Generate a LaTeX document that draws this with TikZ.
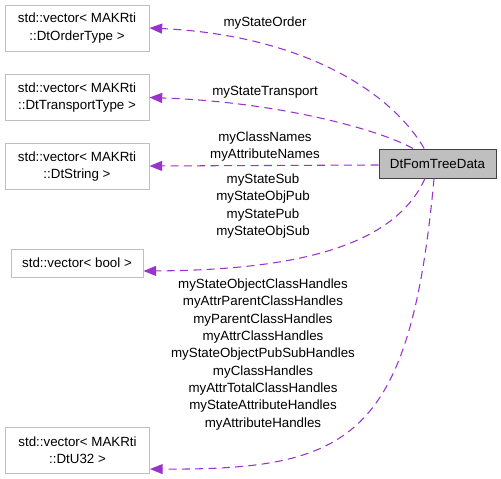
\documentclass[tikz,border=0pt]{standalone}
\usepackage{fontspec}
\setmainfont{Liberation Sans}
\usetikzlibrary{arrows.meta, positioning}
\definecolor{edgepurple}{HTML}{9A32CD}
\definecolor{boxgray}{HTML}{BFBFBF}

\begin{document}
\begin{tikzpicture}[x=0.75pt, y=-0.75pt,
    classbox/.style={draw=boxgray, line width=0.75pt, minimum width=108pt, minimum height=34.5pt, align=center, inner sep=0pt, font=\fontsize{10pt}{13pt}\selectfont},
    usage/.style={draw=edgepurple, line width=0.8pt, dash pattern=on 6pt off 4pt, -{Triangle[length=9.5pt, width=7.5pt, fill=edgepurple]}},
    edgelabel/.style={align=center, inner sep=0pt, font=\fontsize{10pt}{13pt}\selectfont}]
             \useasboundingbox (0,0) rectangle (501,479);
             \node[classbox] (order) at (77,28) {std::vector< MAKRti\\::DtOrderType >};
             \node[classbox] (transport) at (77,97.5) {std::vector< MAKRti\\::DtTransportType >};
             \node[classbox] (strings) at (77,166.5) {std::vector< MAKRti\\::DtString >};
             \node[classbox, minimum width=99pt, minimum height=21pt] (flags) at (77,263) {std::vector< bool >};
             \node[classbox] (handles) at (77.5,450.5) {std::vector< MAKRti\\::DtU32 >};
             \node[classbox, draw=black!75, fill=boxgray, minimum width=87.75pt, minimum height=21.75pt] (data) at (437.5,163.5) {DtFomTreeData};
             \draw[usage] ([xshift=-10pt]data.north) .. controls (390,90) and (300,35) .. (order.east);
             \draw[usage] ([xshift=-18.4pt]data.north) .. controls (380,130) and (280,102) .. (transport.east);
             \draw[usage] (data.west |- 0,165) -- (strings.east |- 0,166);
             \draw[usage] ([xshift=-9.4pt]data.south) .. controls (395,245) and (300,270) .. ([yshift=-6pt]flags.east);
             \draw[usage] ([xshift=-2.6pt]data.south) .. controls (410,440) and (350,470) .. ([yshift=-13.9pt]handles.east);
             \node[edgelabel] (orderlabel) at (265,23) {myStateOrder};
             \node[edgelabel] (transportlabel) at (265,92) {myStateTransport};
             \node[edgelabel] (stringslabel) at (265,146.5) {myClassNames\\myAttributeNames};
             \node[edgelabel] (flagslabel) at (263,206) {myStateSub\\myStateObjPub\\myStatePub\\myStateObjSub};
             \node[edgelabel] (handleslabel) at (263,354.5) {myStateObjectClassHandles\\myAttrParentClassHandles\\myParentClassHandles\\myAttrClassHandles\\myStateObjectPubSubHandles\\myClassHandles\\myAttrTotalClassHandles\\myStateAttributeHandles\\myAttributeHandles};
         \end{tikzpicture}
\end{document}
